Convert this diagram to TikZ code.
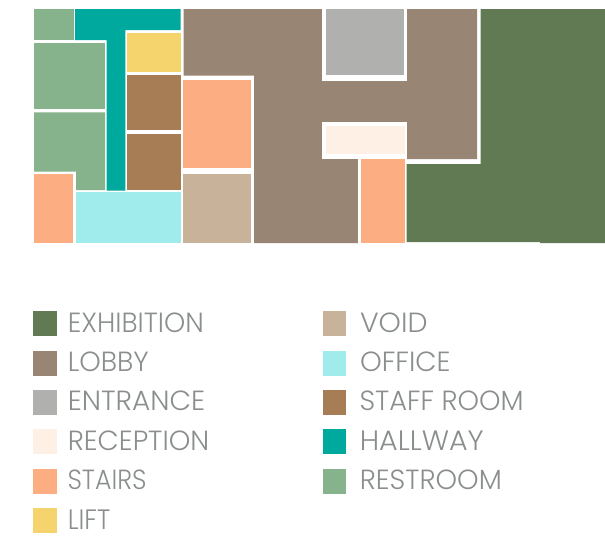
\documentclass[tikz,border=0pt]{standalone}
\usepackage{fontspec}
\usepackage{graphicx}
\setmainfont{Poppins Light}
\definecolor{exhib}{HTML}{617A53}
\definecolor{lobby}{HTML}{998574}
\definecolor{entr}{HTML}{B0B0AE}
\definecolor{recep}{HTML}{FFF0E5}
\definecolor{stairs}{HTML}{FCAE82}
\definecolor{lift}{HTML}{F5D46E}
\definecolor{voidc}{HTML}{C8B29A}
\definecolor{office}{HTML}{A0EBEC}
\definecolor{staff}{HTML}{A67D54}
\definecolor{hall}{HTML}{00A99D}
\definecolor{rest}{HTML}{86B28C}
\definecolor{txt}{HTML}{8A8F8C}
\tikzset{
  swatch/.style={draw=none,minimum width=#1,minimum height=25pt,inner sep=0,outer sep=0,anchor=north west},
  swatch/.default=24pt,
  lab/.style={anchor=base west,inner sep=0,outer sep=0,text=txt},
}
\newcommand{\lbl}[2]{\resizebox{#1pt}{19.6pt}{#2}}
\begin{document}
\begin{tikzpicture}[x=1pt,y=-1pt]
\useasboundingbox (0,0) rectangle (605,549);
% lobby and its white frames
\fill[lobby] (183.5,9) -- (477,9) -- (477,159) -- (406,159) -- (406,243) -- (254,243) -- (254,75.5) -- (183.5,75.5) -- cycle;
\fill[white] (322,9) rectangle (406.7,80.5);
\fill[white] (322,121.5) rectangle (406.7,159);
\fill[white] (358.3,159) rectangle (406.7,243.5);
% rooms
\fill[entr] (325.7,9) rectangle (404.3,75);
\fill[recep] (325.7,126) rectangle (404.7,154);
\fill[stairs] (361,159) rectangle (404.7,243);
\fill[exhib] (480.5,9) -- (605,9) -- (605,243) -- (540,243) -- (540,242) -- (406.7,242) -- (406.7,164) -- (480.5,164) -- cycle;
\fill[hall] (75,9) -- (180.5,9) -- (180.5,30) -- (125.3,30) -- (125.3,190.5) -- (106.7,190.5) -- (106.7,40) -- (75,40) -- cycle;
\fill[rest] (34,9) rectangle (74,40);
\fill[rest] (34,42.5) rectangle (105,109);
\fill[rest] (34,112.3) -- (105,112.3) -- (105,190) -- (76,190) -- (76,171.7) -- (34,171.7) -- cycle;
\fill[lift] (127.3,32.7) rectangle (181,71.7);
\fill[staff] (127.3,75) rectangle (181,130);
\fill[staff] (127.3,134) rectangle (181,190);
\fill[stairs] (183.3,80) rectangle (250.7,168.3);
\fill[voidc] (183.3,173.7) rectangle (250.7,243);
\fill[office] (76,191.7) rectangle (181,243);
\fill[stairs] (34,173.7) rectangle (73,243);
% legend, left column
\node[swatch,fill=exhib] (s1) at (33,311) {};
\node[swatch,fill=lobby] (s2) at (33,351) {};
\node[swatch,fill=entr] (s3) at (33,390) {};
\node[swatch,fill=recep] (s4) at (33,429) {};
\node[swatch,fill=stairs] (s5) at (33,469) {};
\node[swatch,fill=lift] (s6) at (33,508) {};
\node[lab] (t1) at (67.8,332) {\lbl{136}{EXHIBITION}};
\node[lab] (t2) at (67.8,371) {\lbl{81}{LOBBY}};
\node[lab] (t3) at (67.8,410.5) {\lbl{137.5}{ENTRANCE}};
\node[lab] (t4) at (67.8,450) {\lbl{141.5}{RECEPTION}};
\node[lab] (t5) at (67.5,489.5) {\lbl{79}{STAIRS}};
\node[lab] (t6) at (67.8,529) {\lbl{42.5}{LIFT}};
% legend, right column
\node[swatch=23pt,fill=voidc] (s7) at (323,311) {};
\node[swatch=23pt,fill=office] (s8) at (323,351) {};
\node[swatch=23pt,fill=staff] (s9) at (323,390) {};
\node[swatch=23pt,fill=hall] (s10) at (323,429) {};
\node[swatch=23pt,fill=rest] (s11) at (323,469) {};
\node[lab] (t7) at (360,332) {\lbl{67.5}{VOID}};
\node[lab] (t8) at (360,371) {\lbl{90.5}{OFFICE}};
\node[lab] (t9) at (359.5,410.5) {\lbl{164}{STAFF ROOM}};
\node[lab] (t10) at (359.8,450) {\lbl{124}{HALLWAY}};
\node[lab] (t11) at (359.8,489.5) {\lbl{142}{RESTROOM}};
\end{tikzpicture}
\end{document}
